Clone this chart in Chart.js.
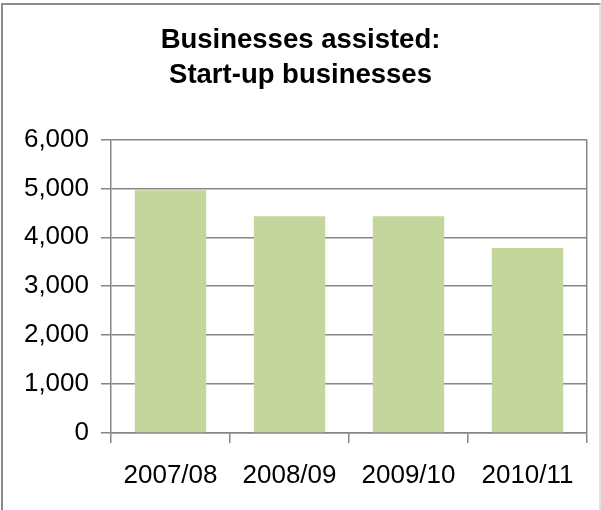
<!DOCTYPE html>
<html>
<head>
<meta charset="utf-8">
<title>Businesses assisted: Start-up businesses</title>
<script src="https://cdn.jsdelivr.net/npm/chart.js@4/dist/chart.umd.min.js"></script>
<style>
    html, body { margin: 0; padding: 0; background: #fff; overflow: hidden; }
    #wrap { position: relative; width: 601px; height: 510px; }
    #myChart { position: absolute; left: 0; top: 0; }
    .frame {
        position: absolute; left: 1px; top: 3px; width: 596px; height: 520px;
        border: 2px solid #8c8c8c; border-right-color: #e2e2e2;
    }
</style>
</head>
<body>
<div id="wrap">
    <canvas id="myChart" width="601" height="510"></canvas>
    <div class="frame"></div>
</div>
<script>
const years = ['2007/08', '2008/09', '2009/10', '2010/11'];
const startUps = [4960, 4430, 4430, 3780];
const yTicks = [0, 1000, 2000, 3000, 4000, 5000, 6000];
const titleLines = ['Businesses assisted:', 'Start-up businesses'];

const FONT = "'Liberation Sans', Arial, sans-serif";
const LINE = '#868686';

const ctx = document.getElementById('myChart').getContext('2d');
new Chart(ctx, {
    type: 'bar',
    data: {
        labels: years,
        datasets: [{
            label: 'Start-up businesses',
            data: startUps,
            backgroundColor: '#c4d69b',
            borderWidth: 0,
            barPercentage: 0.6,
            categoryPercentage: 1
        }]
    },
    options: {
        responsive: false,
        animation: false,
        layout: { padding: { left: 14, right: 14, top: 0, bottom: 0 } },
        plugins: {
            legend: { display: false },
            tooltip: { enabled: false },
            title: {
                display: true,
                text: titleLines,
                color: '#000',
                font: { family: FONT, size: 27.5, weight: 'bold', lineHeight: 1.28 },
                padding: { top: 23, bottom: 46 }
            }
        },
        scales: {
            x: {
                grid: {
                    // the extra line after the last category (no tick context) closes the plot on the right
                    color: (c) => c.tick ? 'rgba(0,0,0,0)' : LINE,
                    tickColor: LINE,
                    lineWidth: 1.5,
                    tickLength: 10
                },
                border: { display: true, color: LINE, width: 1.5 },
                ticks: {
                    color: '#000',
                    font: { family: FONT, size: 26 },
                    padding: 17,
                    maxRotation: 0
                },
                afterFit: (scale) => { scale.height = 77; }
            },
            y: {
                min: 0,
                max: 6000,
                afterBuildTicks: (scale) => { scale.ticks = yTicks.map(v => ({ value: v })); },
                grid: { color: LINE, lineWidth: 1.5, tickLength: 10 },
                border: { display: true, color: LINE, width: 1.5 },
                ticks: {
                    color: '#000',
                    font: { family: FONT, size: 26 },
                    padding: 12,
                    callback: (v) => v.toLocaleString('en-US')
                },
                afterFit: (scale) => { scale.width = 97; }
            }
        }
    }
});
</script>
</body>
</html>
